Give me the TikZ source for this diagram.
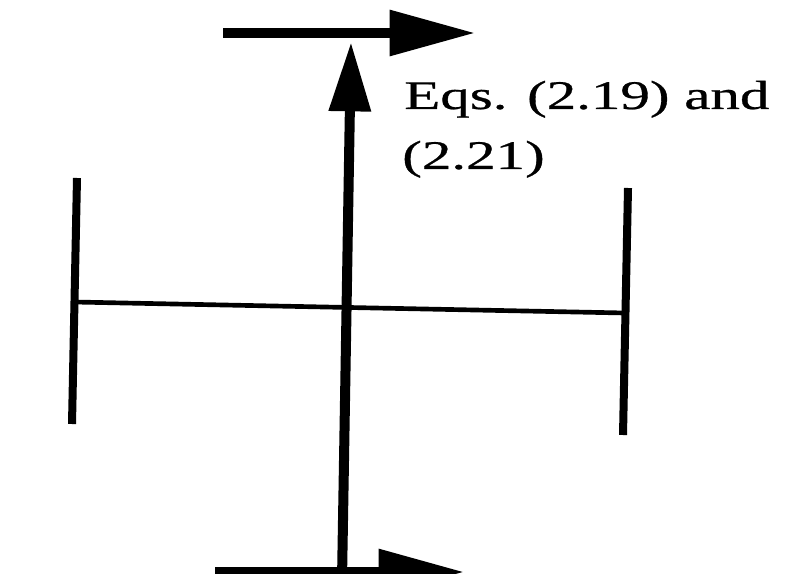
\documentclass[tikz,border=0pt]{standalone}
\usepackage{fontspec}
\usepackage{graphicx}
\setmainfont{Liberation Serif}
\newfontfamily\lblfont[FakeBold=0.6]{Liberation Serif}
\usetikzlibrary{arrows.meta}
\begin{document}
\begin{tikzpicture}[x=0.75pt,y=-0.75pt,
  heavyarrow/.style={line width=7pt,line cap=butt,
    -{Triangle[length=64pt,width=33pt]}},
  vertarrow/.style={line width=7.5pt,line cap=butt,
    -{Triangle[length=52pt,width=30pt]}},
  sidebar/.style={line width=6pt,line cap=butt},
  crossbar/.style={line width=3.5pt,line cap=butt},
  lbl/.style={anchor=base west,inner sep=0pt}]
\useasboundingbox (0,0) rectangle (799,574);
\clip (0,0) rectangle (799,574);
% coordinates
\coordinate (topL) at (223,33);
\coordinate (topR) at (475,33);
\coordinate (vB) at (342,580);
\coordinate (vT) at (351,42);
\coordinate (botL) at (215,572);
\coordinate (botR) at (464,572);
\coordinate (lT) at (77,178);
\coordinate (lB) at (72,424);
\coordinate (rT) at (628,188);
\coordinate (rB) at (623,435);
\coordinate (hL) at (74,302);
\coordinate (hR) at (625,313);
% drawing
\draw[sidebar] (lT) -- (lB);
\draw[sidebar] (rT) -- (rB);
\draw[crossbar] (hL) -- (hR);
\draw[heavyarrow] (topL) -- (topR);
\draw[heavyarrow] (botL) -- (botR);
\draw[vertarrow] (vB) -- (vT);
\node[lbl] (l1) at (404,109) {\scalebox{1.45}[1]{\lblfont\fontsize{30.5}{36}\selectfont Eqs. (2.19) and}};
\node[lbl] (l2) at (402,169) {\scalebox{1.45}[1]{\lblfont\fontsize{30.5}{36}\selectfont (2.21)}};
\end{tikzpicture}
\end{document}
